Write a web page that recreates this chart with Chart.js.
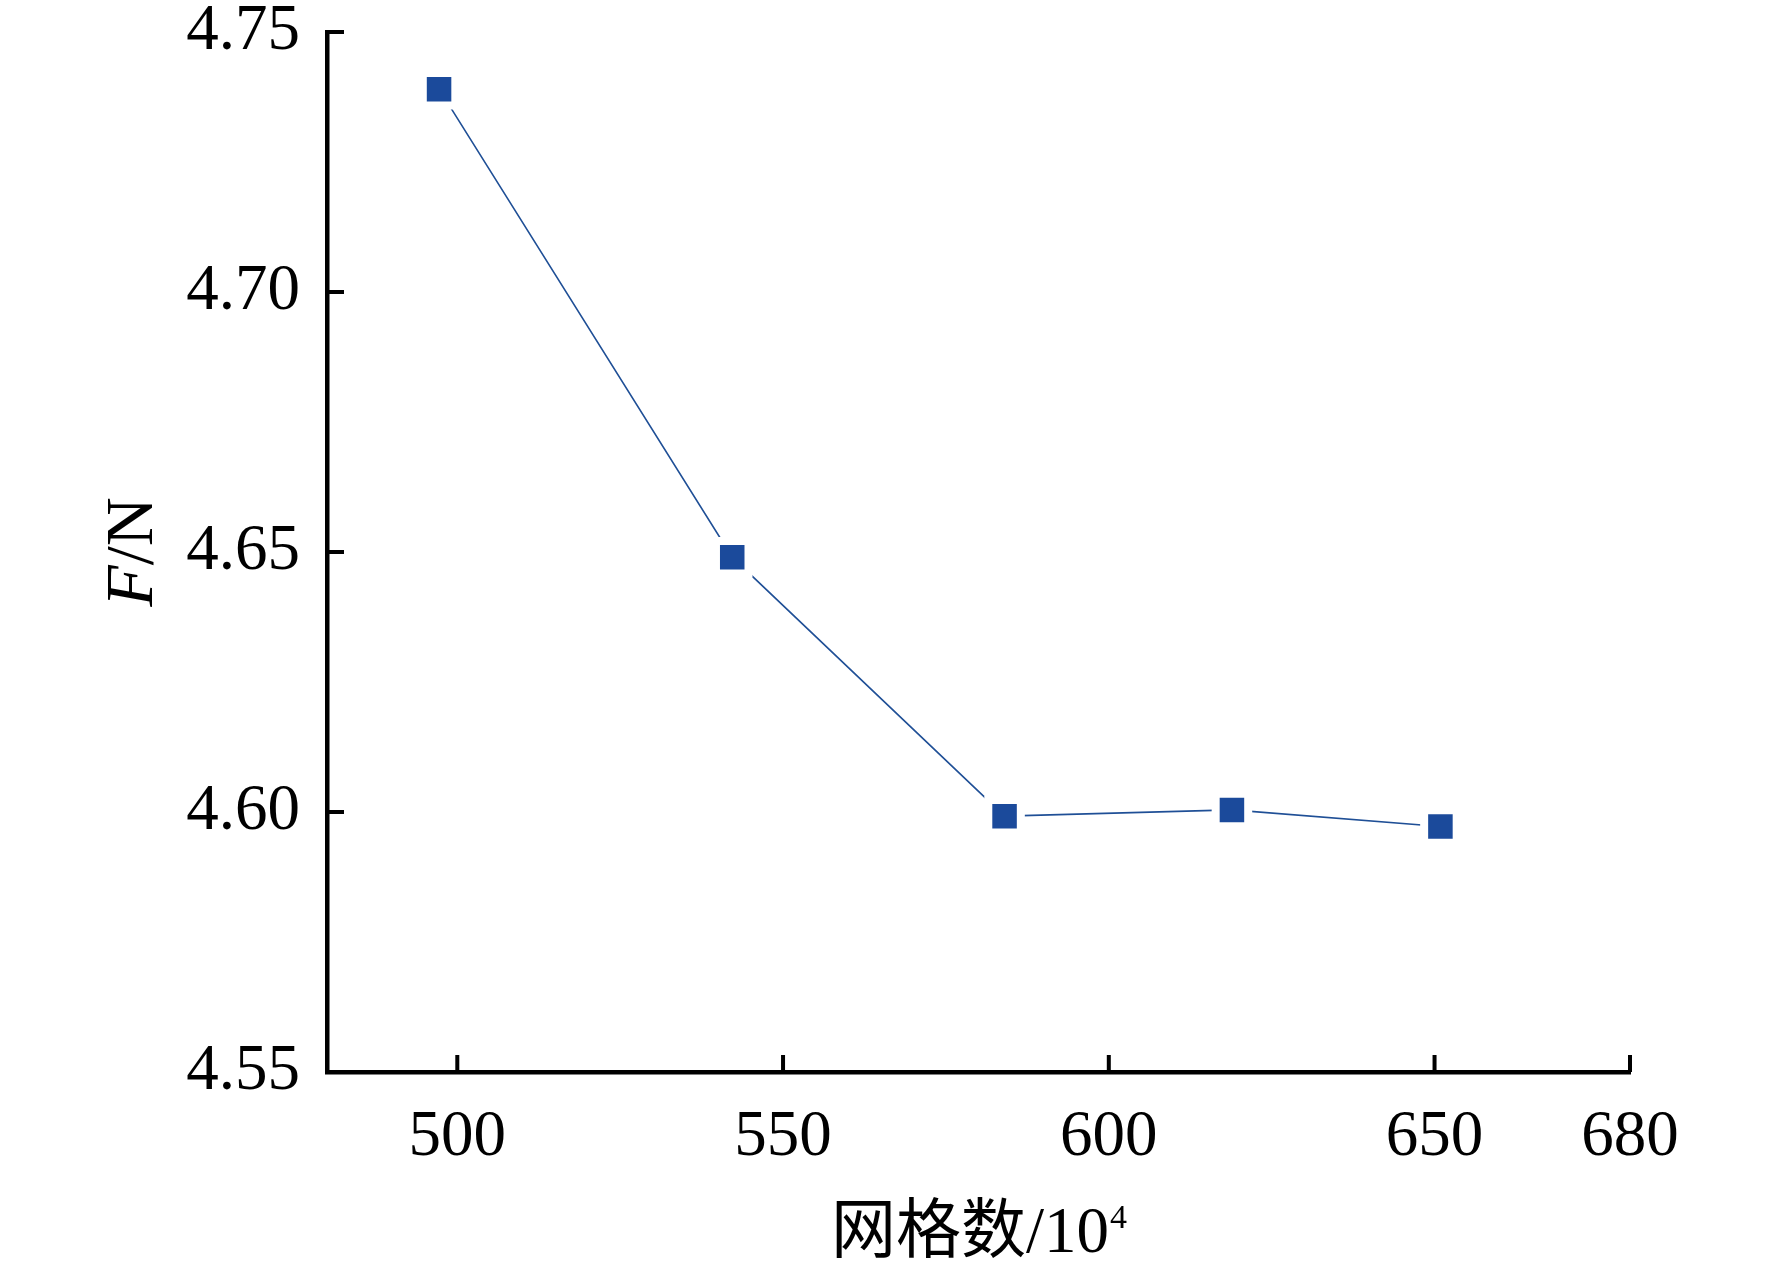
<!DOCTYPE html>
<html>
<head>
<meta charset="utf-8">
<script src="https://cdn.jsdelivr.net/npm/chart.js@4.4.1/dist/chart.umd.min.js"></script>
<style>
  html, body { margin: 0; padding: 0; background: #fff; }
  #wrap { width: 1772px; height: 1271px; position: relative; }
</style>
</head>
<body>
<div id="wrap"><canvas id="chart_1"></canvas></div>
<script>
// mesh count (10^4) vs force F (N)
const meshCounts = [497.2, 542.2, 584.0, 618.9, 650.9];
const forceValues = [4.739, 4.649, 4.5992, 4.6004, 4.5972];
const xTickValues = [500, 550, 600, 650, 680];
const yTickValues = [4.55, 4.60, 4.65, 4.70, 4.75];

const serif = "'Liberation Serif', 'Times New Roman', serif";
const ct_1 = document.getElementById("chart_1");

// short tick marks pointing into the plot, like the original figure
const innerTicks = {
  id: "innerTicks",
  afterDraw(chart) {
    const ctx = chart.ctx;
    const { x, y } = chart.scales;
    const area = chart.chartArea;
    ctx.save();
    ctx.strokeStyle = "#000";
    ctx.lineWidth = 4;
    ctx.beginPath();
    xTickValues.forEach((v) => {
      const px = x.getPixelForValue(v);
      ctx.moveTo(px, area.bottom);
      ctx.lineTo(px, area.bottom - 17);
    });
    yTickValues.forEach((v) => {
      const py = y.getPixelForValue(v);
      ctx.moveTo(area.left, py);
      ctx.lineTo(area.left + 17, py);
    });
    ctx.stroke();
    ctx.restore();
  },
};

// axis titles: italic F in "F/N" and superscript in "10^4"
const axisTitles = {
  id: "axisTitles",
  afterDraw(chart) {
    const ctx = chart.ctx;
    const area = chart.chartArea;
    ctx.save();
    ctx.fillStyle = "#000";
    ctx.textBaseline = "alphabetic";

    // x title
    const mainFont = "65px 'Liberation Serif', 'Noto Sans CJK SC', serif";
    const supFont = "34px 'Liberation Serif', serif";
    const mainText = "网格数/10";
    ctx.font = mainFont;
    const w1 = ctx.measureText(mainText).width;
    ctx.font = supFont;
    const w2 = ctx.measureText("4").width;
    const cx = (area.left + area.right) / 2;
    const by = area.bottom + 180;
    let sx = cx - (w1 + w2) / 2;
    ctx.textAlign = "left";
    ctx.font = mainFont;
    ctx.fillText(mainText, sx, by);
    ctx.font = supFont;
    ctx.fillText("4", sx + w1 + 1, by - 24);

    // y title (rotated)
    ctx.translate(area.left - 175, (area.top + area.bottom) / 2);
    ctx.rotate(-Math.PI / 2);
    ctx.font = "italic 68px " + serif;
    const wF = ctx.measureText("F").width;
    ctx.font = "68px " + serif;
    const wN = ctx.measureText("/N").width;
    const startX = -(wF + wN) / 2;
    ctx.font = "italic 68px " + serif;
    ctx.fillText("F", startX, 0);
    ctx.font = "68px " + serif;
    ctx.fillText("/N", startX + wF, 0);
    ctx.restore();
  },
};

const config_1 = {
  type: "line",
  data: {
    datasets: [
      {
        label: "F/N",
        data: meshCounts.map((m, i) => ({ x: m, y: forceValues[i] })),
        borderColor: "#1f4f96",
        borderWidth: 1.6,
        pointStyle: "rect",
        pointRadius: 23,
        pointBackgroundColor: "#1b4a9b",
        pointBorderColor: "#ffffff",
        pointBorderWidth: 8,
        tension: 0,
      },
    ],
  },
  options: {
    responsive: true,
    maintainAspectRatio: false,
    animation: false,
    devicePixelRatio: 1,
    layout: { padding: { top: 0, right: 142, left: 0, bottom: 0 } },
    plugins: {
      legend: { display: false },
      tooltip: { enabled: false },
    },
    scales: {
      x: {
        type: "linear",
        min: 480,
        max: 680,
        afterBuildTicks: (scale) => {
          scale.ticks = xTickValues.map((v) => ({ value: v }));
        },
        afterFit: (scale) => {
          scale.height = 199;
        },
        grid: { display: false, drawTicks: false },
        border: { display: true, color: "#000", width: 4.5 },
        ticks: {
          color: "#000",
          padding: 33,
          font: { size: 65, family: serif, lineHeight: 1 },
          maxRotation: 0,
          autoSkip: false,
        },
      },
      y: {
        type: "linear",
        min: 4.55,
        max: 4.75,
        afterBuildTicks: (scale) => {
          scale.ticks = yTickValues.map((v) => ({ value: v }));
        },
        afterFit: (scale) => {
          scale.width = 327;
          // keep the plot top close to the canvas edge
          scale.paddingTop = 32;
          scale.paddingBottom = 0;
        },
        grid: { display: false, drawTicks: false },
        border: { display: true, color: "#000", width: 4.5 },
        ticks: {
          color: "#000",
          padding: 27,
          font: { size: 65, family: serif, lineHeight: 1 },
          callback: (v) => Number(v).toFixed(2),
        },
      },
    },
  },
  plugins: [innerTicks, axisTitles],
};

new Chart(ct_1, config_1);
</script>
</body>
</html>
